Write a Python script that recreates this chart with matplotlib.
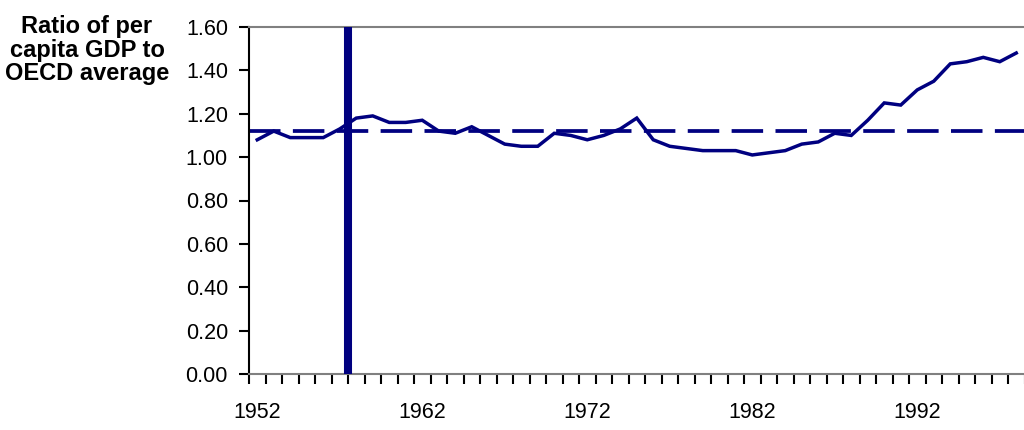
import matplotlib
matplotlib.use("Agg")
import matplotlib.pyplot as plt

plt.rcParams["font.family"] = ["Liberation Sans", "DejaVu Sans"]

# data
years = list(range(1952, 1999))
ratio = [
    1.08, 1.12, 1.09, 1.09, 1.09, 1.13, 1.18, 1.19, 1.16, 1.16,
    1.17, 1.12, 1.11, 1.14, 1.10, 1.06, 1.05, 1.05, 1.11, 1.10,
    1.08, 1.10, 1.13, 1.18, 1.08, 1.05, 1.04, 1.03, 1.03, 1.03,
    1.01, 1.02, 1.03, 1.06, 1.07, 1.11, 1.10, 1.17, 1.25, 1.24,
    1.31, 1.35, 1.43, 1.44, 1.46, 1.44, 1.48,
]
average_ratio = 1.12
break_year = 1958
label_years = [1952, 1962, 1972, 1982, 1992]
y_ticks = [0.0, 0.2, 0.4, 0.6, 0.8, 1.0, 1.2, 1.4, 1.6]

navy = "#000080"

fig = plt.figure(figsize=(10.24, 4.3), dpi=100)
ax = fig.add_axes([249 / 1024, 56 / 430, 775.5 / 1024, 347 / 430])

x = list(range(len(years)))
ax.plot(x, ratio, color=navy, lw=2.5, solid_joinstyle="miter", zorder=3)
ax.axhline(average_ratio, color=navy, lw=2.7, dashes=(8.4, 3.3),
           dash_capstyle="butt", zorder=2)
ax.axvline(years.index(break_year) - 0.5, color=navy, lw=5.8, zorder=4)

ax.set_xlim(-0.5, len(years) - 0.5)
ax.set_ylim(0, 1.6)

# tick marks between categories, labels centred on categories
ax.set_xticks([i - 0.5 for i in range(len(years) + 1)])
ax.set_xticklabels([])
ax.set_xticks([years.index(y) for y in label_years], minor=True)
ax.set_xticklabels([str(y) for y in label_years], minor=True, fontsize=15.5)
ax.tick_params(axis="x", which="major", direction="out", length=7.2, width=1.5)
ax.tick_params(axis="x", which="minor", length=0, pad=20)

ax.set_yticks(y_ticks)
ax.set_yticklabels([f"{v:.2f}" for v in y_ticks], fontsize=15.5)
ax.tick_params(axis="y", direction="out", length=7.2, width=1.5, pad=8)

ax.spines["left"].set_linewidth(1.5)
ax.spines["left"].set_color("black")
ax.spines["bottom"].set_linewidth(1.5)
ax.spines["bottom"].set_color("#808080")
ax.spines["top"].set_linewidth(1.5)
ax.spines["top"].set_color("#808080")
ax.spines["right"].set_visible(False)

fig.text(87 / 1024, 1 - 50 / 430, "Ratio of per\ncapita GDP to\nOECD average",
         ha="center", va="center", multialignment="center",
         fontsize=17, fontweight="bold", linespacing=1.05)

plt.savefig("out.png", dpi=100)
plt.close()
